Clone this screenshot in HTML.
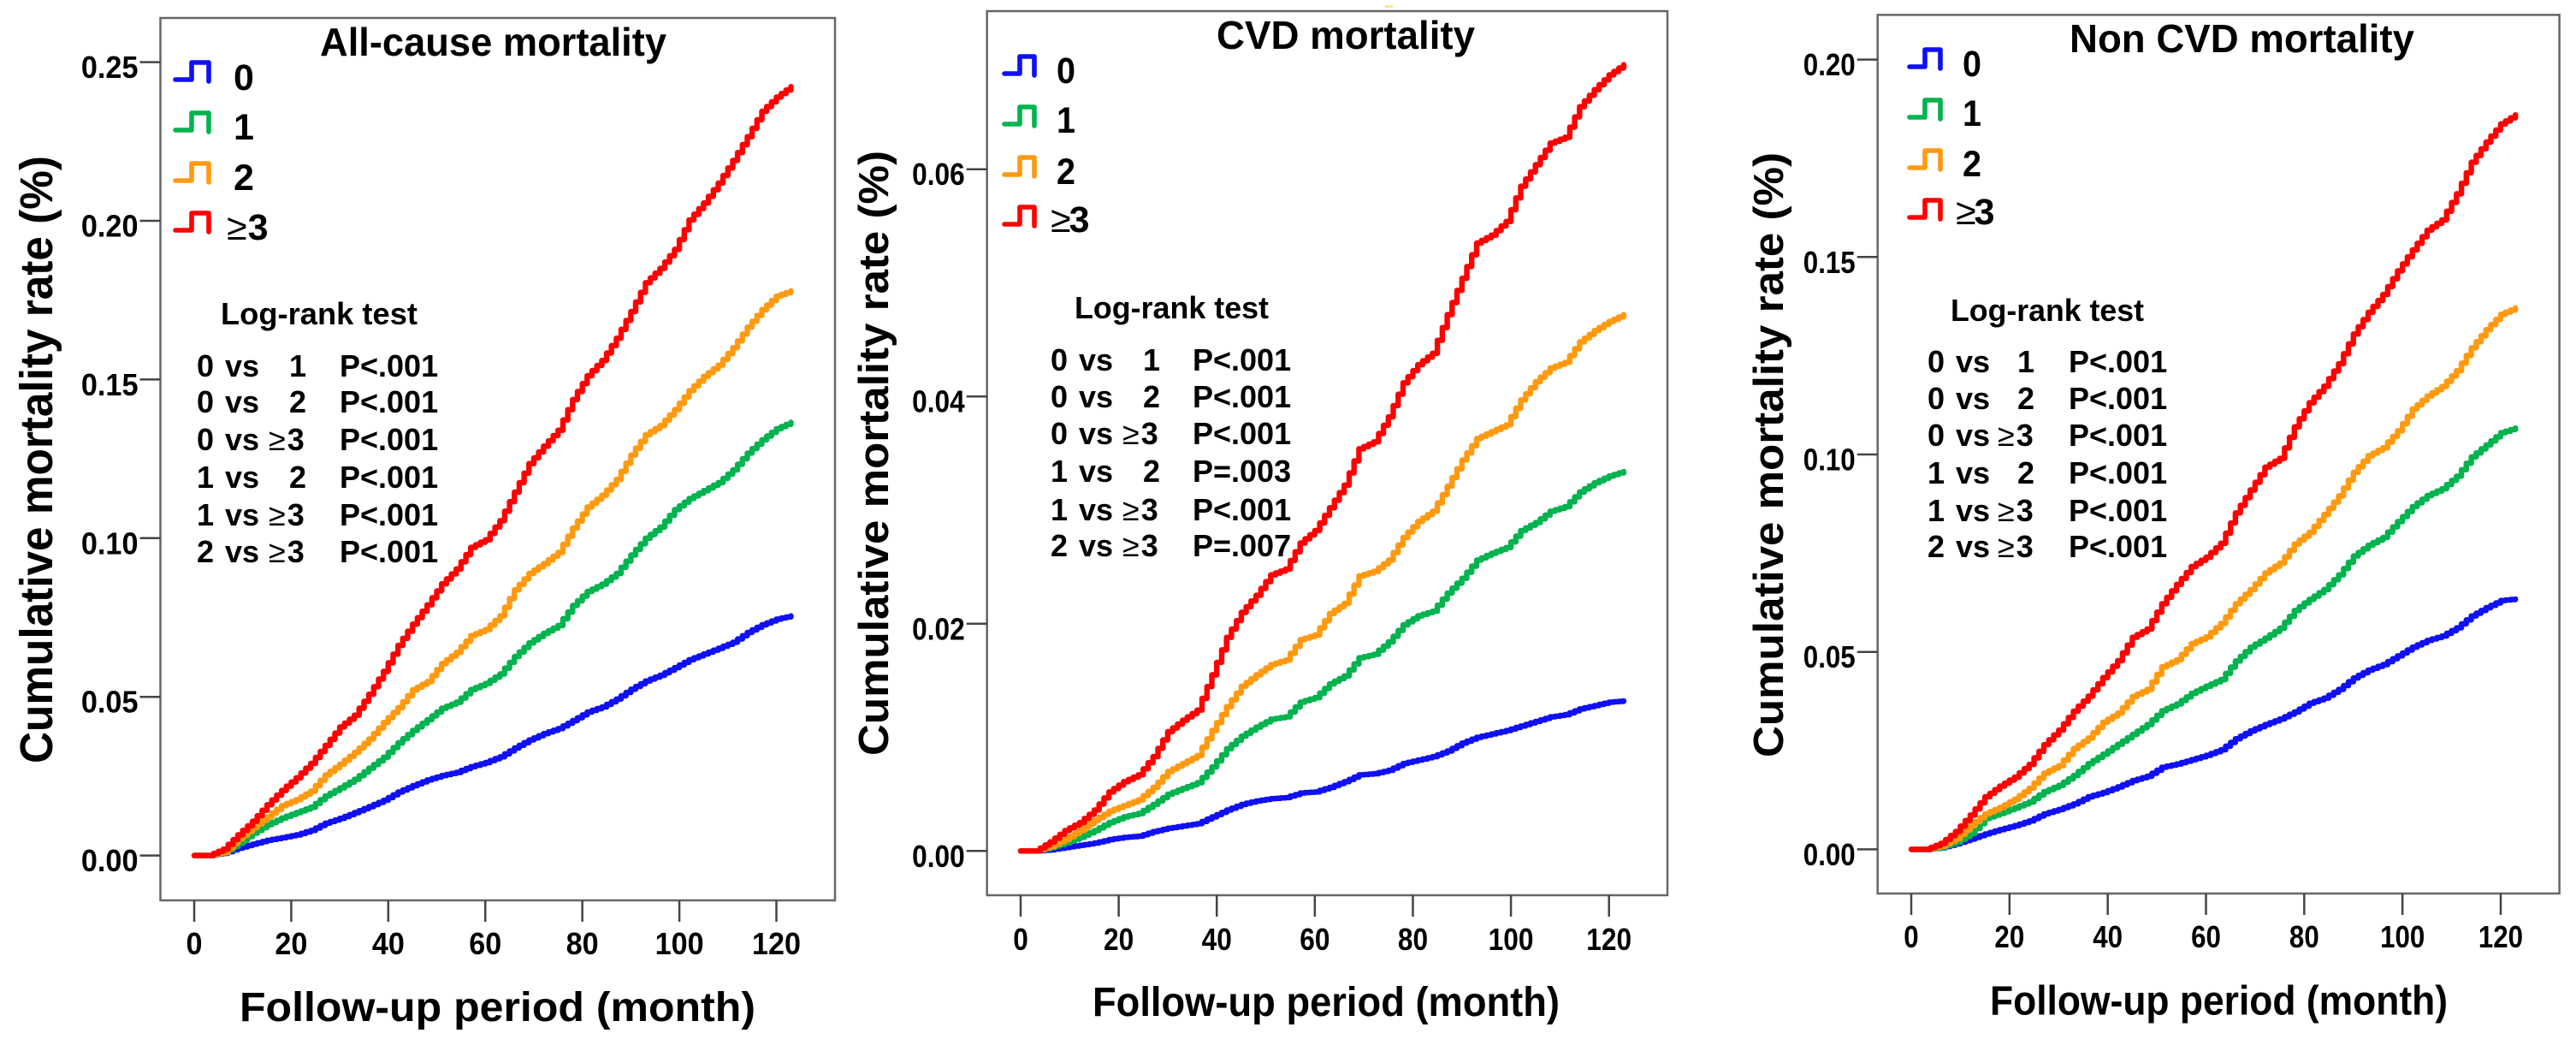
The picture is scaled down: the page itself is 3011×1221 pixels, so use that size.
<!DOCTYPE html>
<html lang="en">
<head>
<meta charset="utf-8">
<title>Cumulative mortality curves</title>
<style>
  html, body { margin: 0; padding: 0; background: #fff; }
  svg { display: block; }
  text { font-family: "Liberation Sans", "DejaVu Sans", sans-serif; font-weight: 700; fill: #000; }
  .row { font-size: 36px; }
  .leg { font-size: 43px; }
  .hdr { font-size: 36px; }
  .ttl { font-size: 46px; }
  .xt { font-size: 48px; }
  .yt1 { font-size: 54px; }
  .yt2 { font-size: 49px; }
  .thin { font-weight: 400; }
  .frame { fill: none; stroke: #666; stroke-width: 2.5; }
  .sym { fill: none; stroke-width: 5.6; stroke-linecap: round; stroke-linejoin: round; }
</style>
</head>
<body>
<svg id="chart" xmlns="http://www.w3.org/2000/svg" width="3011" height="1221" viewBox="0 0 3011 1221">
  <rect x="0" y="0" width="3011" height="1221" fill="#fff"/>
  <rect x="1619" y="6" width="9" height="3" fill="#ffe680"/>

  <!-- Panel 1 -->
  <g id="panel-all">
    <rect class="frame" x="187.5" y="21" width="788.5" height="1031"/>
    <text class="ttl" x="374" y="65" textLength="405" lengthAdjust="spacingAndGlyphs">All-cause mortality</text>
    <text class="yt1" transform="translate(61,892) rotate(-90)" x="0" y="0" textLength="710" lengthAdjust="spacingAndGlyphs">Cumulative mortality rate (%)</text>
    <text class="xt" x="280" y="1193" textLength="603" lengthAdjust="spacingAndGlyphs">Follow-up period (month)</text>
    <g>
      <path class="sym" stroke="#1010f5" d="M205 93H224V73H244V95"/>
      <path class="sym" stroke="#00b34f" d="M205 152H224V132H244V154"/>
      <path class="sym" stroke="#ff9a10" d="M205 211H224V191H244V213"/>
      <path class="sym" stroke="#ff0000" d="M205 269H224V249H244V271"/>
      <text class="leg" x="273" y="105">0</text>
      <text class="leg" x="273" y="163">1</text>
      <text class="leg" x="273" y="222">2</text>
      <text class="leg" x="265" y="280"><tspan class="thin">≥</tspan><tspan dx="1">3</tspan></text>
    </g>
    <g>
      <text class="hdr" x="258" y="379" textLength="230" lengthAdjust="spacingAndGlyphs">Log-rank test</text>
      <text class="row" y="440"><tspan x="230">0</tspan><tspan x="263">vs</tspan><tspan x="338">1</tspan><tspan x="397">P&lt;.001</tspan></text>
      <text class="row" y="482"><tspan x="230">0</tspan><tspan x="263">vs</tspan><tspan x="338">2</tspan><tspan x="397">P&lt;.001</tspan></text>
      <text class="row" y="526"><tspan x="230">0</tspan><tspan x="263">vs</tspan><tspan x="314" class="thin">≥</tspan><tspan dx="2">3</tspan><tspan x="397">P&lt;.001</tspan></text>
      <text class="row" y="570"><tspan x="230">1</tspan><tspan x="263">vs</tspan><tspan x="338">2</tspan><tspan x="397">P&lt;.001</tspan></text>
      <text class="row" y="614"><tspan x="230">1</tspan><tspan x="263">vs</tspan><tspan x="314" class="thin">≥</tspan><tspan dx="2">3</tspan><tspan x="397">P&lt;.001</tspan></text>
      <text class="row" y="657"><tspan x="230">2</tspan><tspan x="263">vs</tspan><tspan x="314" class="thin">≥</tspan><tspan dx="2">3</tspan><tspan x="397">P&lt;.001</tspan></text>
    </g>
  </g>

  <!-- Panel 2 -->
  <g id="panel-cvd">
    <rect class="frame" x="1153.7" y="13" width="795.3" height="1033"/>
    <text class="ttl" x="1422" y="57" textLength="302" lengthAdjust="spacingAndGlyphs">CVD mortality</text>
    <text class="yt2" transform="translate(1038,883) rotate(-90)" x="0" y="0" textLength="707" lengthAdjust="spacingAndGlyphs">Cumulative mortality rate (%)</text>
    <text class="xt" x="1277" y="1187" textLength="546" lengthAdjust="spacingAndGlyphs">Follow-up period (month)</text>
    <g>
      <path class="sym" stroke="#1010f5" d="M1174 86H1192V66H1209V88"/>
      <path class="sym" stroke="#00b34f" d="M1174 145H1192V125H1209V147"/>
      <path class="sym" stroke="#ff9a10" d="M1174 204H1192V184H1209V206"/>
      <path class="sym" stroke="#ff0000" d="M1174 262H1192V242H1209V264"/>
      <text class="leg" x="1235" y="97" textLength="22" lengthAdjust="spacingAndGlyphs">0</text>
      <text class="leg" x="1235" y="155" textLength="22" lengthAdjust="spacingAndGlyphs">1</text>
      <text class="leg" x="1235" y="215" textLength="22" lengthAdjust="spacingAndGlyphs">2</text>
      <text class="leg" x="1228" y="271"><tspan class="thin">≥</tspan><tspan dx="-2">3</tspan></text>
    </g>
    <g>
      <text class="hdr" x="1256" y="372" textLength="227" lengthAdjust="spacingAndGlyphs">Log-rank test</text>
      <text class="row" y="433"><tspan x="1228">0</tspan><tspan x="1261">vs</tspan><tspan x="1336">1</tspan><tspan x="1394">P&lt;.001</tspan></text>
      <text class="row" y="476"><tspan x="1228">0</tspan><tspan x="1261">vs</tspan><tspan x="1336">2</tspan><tspan x="1394">P&lt;.001</tspan></text>
      <text class="row" y="519"><tspan x="1228">0</tspan><tspan x="1261">vs</tspan><tspan x="1312" class="thin">≥</tspan><tspan dx="2">3</tspan><tspan x="1394">P&lt;.001</tspan></text>
      <text class="row" y="563"><tspan x="1228">1</tspan><tspan x="1261">vs</tspan><tspan x="1336">2</tspan><tspan x="1394">P=.003</tspan></text>
      <text class="row" y="608"><tspan x="1228">1</tspan><tspan x="1261">vs</tspan><tspan x="1312" class="thin">≥</tspan><tspan dx="2">3</tspan><tspan x="1394">P&lt;.001</tspan></text>
      <text class="row" y="650"><tspan x="1228">2</tspan><tspan x="1261">vs</tspan><tspan x="1312" class="thin">≥</tspan><tspan dx="2">3</tspan><tspan x="1394">P=.007</tspan></text>
    </g>
  </g>

  <!-- Panel 3 -->
  <g id="panel-non">
    <rect class="frame" x="2194.7" y="17.4" width="796.9" height="1026.6"/>
    <text class="ttl" x="2419" y="61" textLength="403" lengthAdjust="spacingAndGlyphs">Non CVD mortality</text>
    <text class="yt2" transform="translate(2084,885) rotate(-90)" x="0" y="0" textLength="707" lengthAdjust="spacingAndGlyphs">Cumulative mortality rate (%)</text>
    <text class="xt" x="2326" y="1185.6" textLength="535" lengthAdjust="spacingAndGlyphs">Follow-up period (month)</text>
    <g>
      <path class="sym" stroke="#1010f5" d="M2232 78H2250V58H2268V80"/>
      <path class="sym" stroke="#00b34f" d="M2232 137H2250V117H2268V139"/>
      <path class="sym" stroke="#ff9a10" d="M2232 196H2250V176H2268V198"/>
      <path class="sym" stroke="#ff0000" d="M2232 254H2250V234H2268V256"/>
      <text class="leg" x="2294" y="89" textLength="22" lengthAdjust="spacingAndGlyphs">0</text>
      <text class="leg" x="2294" y="147" textLength="22" lengthAdjust="spacingAndGlyphs">1</text>
      <text class="leg" x="2294" y="206" textLength="22" lengthAdjust="spacingAndGlyphs">2</text>
      <text class="leg" x="2286" y="262"><tspan class="thin">≥</tspan><tspan dx="-2">3</tspan></text>
    </g>
    <g>
      <text class="hdr" x="2280" y="375" textLength="226" lengthAdjust="spacingAndGlyphs">Log-rank test</text>
      <text class="row" y="435"><tspan x="2253">0</tspan><tspan x="2286">vs</tspan><tspan x="2358">1</tspan><tspan x="2418">P&lt;.001</tspan></text>
      <text class="row" y="478"><tspan x="2253">0</tspan><tspan x="2286">vs</tspan><tspan x="2358">2</tspan><tspan x="2418">P&lt;.001</tspan></text>
      <text class="row" y="521"><tspan x="2253">0</tspan><tspan x="2286">vs</tspan><tspan x="2335" class="thin">≥</tspan><tspan dx="2">3</tspan><tspan x="2418">P&lt;.001</tspan></text>
      <text class="row" y="565"><tspan x="2253">1</tspan><tspan x="2286">vs</tspan><tspan x="2358">2</tspan><tspan x="2418">P&lt;.001</tspan></text>
      <text class="row" y="609"><tspan x="2253">1</tspan><tspan x="2286">vs</tspan><tspan x="2335" class="thin">≥</tspan><tspan dx="2">3</tspan><tspan x="2418">P&lt;.001</tspan></text>
      <text class="row" y="651"><tspan x="2253">2</tspan><tspan x="2286">vs</tspan><tspan x="2335" class="thin">≥</tspan><tspan dx="2">3</tspan><tspan x="2418">P&lt;.001</tspan></text>
    </g>
  </g>
</svg>

<script>
// Shared x data: follow-up month for every reading below
const months = [0,3,6,9,12,15,18,21,24,27,30,33,36,39,42,45,48,51,54,57,60,63,66,69,72,75,78,81,84,87,90,93,96,99,102,105,108,111,114,117,120,123];
const xTickValues = [0,20,40,60,80,100,120];

// All-cause mortality
const allCauseYTicks = [0,0.05,0.10,0.15,0.20,0.25];
const allCause0 = [0,0,.0007,.0023,.0036,.0048,.0056,.0065,.0079,.0102,.0117,.0135,.0154,.0174,.02,.022,.0238,.0252,.0262,.028,.0293,.0311,.0339,.0364,.0384,.04,.0425,.0452,.0468,.0493,.0524,.055,.0568,.0592,.0617,.0635,.0653,.0672,.0703,.0727,.0745,.0755];
const allCause1 = [0,0,.0008,.0038,.007,.0097,.0118,.0135,.0152,.0188,.0213,.024,.0275,.031,.0355,.0394,.0428,.0464,.0483,.0523,.0542,.0572,.0627,.067,.07,.0725,.0788,.0832,.0855,.0889,.0947,.1,.1035,.109,.1125,.115,.1175,.1215,.1268,.131,.1345,.1365];
const allCause2 = [0,0,.001,.0052,.0088,.0122,.0157,.0176,.0203,.0254,.0288,.0325,.0367,.0419,.0466,.0522,.0548,.0605,.064,.0693,.0712,.0755,.0837,.0889,.092,.0955,.1032,.1098,.1135,.1185,.1262,.1326,.1355,.1405,.1465,.151,.1545,.16,.1665,.172,.1763,.1779];
const allCause3 = [0,0,.002,.0065,.0108,.016,.0205,.0245,.029,.0347,.0405,.0442,.0508,.058,.0662,.0729,.079,.0856,.0903,.0971,.0995,.1055,.1145,.1235,.129,.134,.1437,.1512,.156,.163,.1714,.1805,.185,.191,.2003,.2056,.2119,.219,.2265,.2345,.239,.2423];

// CVD mortality
const cvdYTicks = [0,0.02,0.04,0.06];
const cvd0 = [0,0,.0001,.0003,.0005,.0007,.001,.0012,.0013,.0017,.002,.0022,.0024,.003,.0036,.0041,.0044,.0046,.0047,.0051,.0052,.0056,.0061,.0067,.0068,.0071,.0077,.008,.0083,.0088,.0095,.01,.0103,.0106,.011,.0114,.0118,.012,.0125,.0128,.0131,.0132];
const cvd1 = [0,0,.0003,.0007,.0012,.0018,.0025,.003,.0033,.0041,.005,.0055,.006,.0074,.009,.0101,.0109,.0116,.0118,.0131,.0135,.0147,.0154,.017,.0173,.0184,.0199,.0207,.0211,.0227,.024,.0256,.0262,.0267,.0282,.0289,.0299,.0303,.0316,.0324,.033,.0334];
const cvd2 = [0,0,.0004,.001,.0018,.0027,.0035,.004,.0045,.0056,.007,.0077,.0084,.0106,.0127,.0145,.0155,.0164,.0168,.0186,.019,.0209,.0218,.0242,.0246,.0256,.0276,.029,.0299,.0321,.0344,.0363,.0369,.0375,.0397,.0413,.0425,.043,.0448,.0458,.0466,.0472];
const cvd3 = [0,0,.0008,.0018,.0025,.0036,.0052,.0061,.0067,.0083,.0105,.0115,.0124,.0155,.0188,.021,.0225,.0243,.0248,.0271,.0282,.0302,.0322,.0354,.036,.0382,.0412,.0428,.0438,.0472,.0504,.0535,.0542,.0554,.0585,.0604,.0623,.0628,.0655,.067,.0683,.0692];

// Non-CVD mortality
const nonCvdYTicks = [0,0.05,0.10,0.15,0.20];
const nonCvd0 = [0,0,.0004,.0014,.0026,.0039,.005,.006,.0072,.009,.0101,.0115,.0133,.0144,.0158,.0174,.0185,.0208,.0216,.0227,.0238,.0252,.028,.03,.0316,.033,.0348,.037,.0383,.0405,.0434,.0454,.0468,.049,.0512,.0529,.054,.0561,.0591,.0612,.063,.0634];
const nonCvd1 = [0,0,.0005,.0018,.004,.0078,.0091,.0105,.012,.0146,.0162,.0187,.0217,.0241,.0266,.0291,.0316,.0351,.0368,.0395,.0413,.043,.0477,.0512,.0535,.056,.0605,.0633,.0658,.0695,.0743,.077,.079,.083,.0868,.0896,.0913,.0945,.0994,.1024,.1055,.1067];
const nonCvd2 = [0,0,.0008,.0027,.006,.009,.0106,.0127,.0155,.0193,.0212,.0255,.0282,.0322,.0345,.0387,.0405,.0462,.048,.0521,.0538,.0572,.0622,.0658,.07,.0725,.0773,.0803,.0848,.0895,.0955,.0997,.1017,.106,.1115,.1148,.1172,.1212,.127,.1316,.1355,.1371];
const nonCvd3 = [0,0,.0015,.0045,.0087,.0133,.016,.0183,.0215,.0265,.0302,.035,.0388,.0435,.0478,.0537,.0558,.0622,.0671,.0716,.074,.0775,.0852,.091,.0968,.099,.107,.1131,.1173,.123,.1305,.136,.1405,.1465,.1518,.1568,.1594,.166,.174,.1791,.1837,.186];

const SVGNS = "http://www.w3.org/2000/svg";
const seriesColors = ["#1010f5", "#00b34f", "#ff9a10", "#ff0000"];
const seriesGroups = ["0", "1", "2", "3-plus"];
const SUB_STEPS = 3;

function linear(d0, d1, r0, r1) {
  return function (v) { return r0 + (v - d0) * (r1 - r0) / (d1 - d0); };
}

function stairPath(xs, ys, sx, sy) {
  let d = "M" + sx(xs[0]).toFixed(1) + " " + sy(ys[0]).toFixed(1);
  for (let i = 1; i < xs.length; i++) {
    for (let k = 1; k <= SUB_STEPS; k++) {
      const f = k / SUB_STEPS;
      const xm = xs[i - 1] + (xs[i] - xs[i - 1]) * f;
      const ym = ys[i - 1] + (ys[i] - ys[i - 1]) * f;
      d += "H" + sx(xm).toFixed(1) + "V" + sy(ym).toFixed(1);
    }
  }
  return d;
}

function labelWidth(s, size, squeeze) {
  let em = 0;
  for (const c of s) { em += (c === ".") ? 0.278 : 0.556; }
  return em * size * squeeze;
}

function drawPanel(p) {
  const g = document.getElementById(p.id);
  const sx = linear(0, 120, p.x0, p.x120);
  const sy = linear(0, p.yRefValue, p.y0, p.yRef);

  xTickValues.forEach(function (t) {
    const line = document.createElementNS(SVGNS, "line");
    line.setAttribute("x1", sx(t));
    line.setAttribute("x2", sx(t));
    line.setAttribute("y1", p.bottom);
    line.setAttribute("y2", p.bottom + 25);
    line.setAttribute("stroke", "#444");
    line.setAttribute("stroke-width", "2.5");
    
    
    g.appendChild(line);

    const s = String(t);
    const txt = document.createElementNS(SVGNS, "text");
    txt.setAttribute("x", sx(t));
    txt.setAttribute("y", p.xLabelY);
    txt.setAttribute("text-anchor", "middle");
    txt.setAttribute("font-size", "36");
    txt.setAttribute("textLength", labelWidth(s, 36, p.squeeze).toFixed(1));
    txt.setAttribute("lengthAdjust", "spacingAndGlyphs");
    
    
    txt.textContent = s;
    g.appendChild(txt);
  });

  p.yTicks.forEach(function (t) {
    const line = document.createElementNS(SVGNS, "line");
    line.setAttribute("x1", p.left - 24);
    line.setAttribute("x2", p.left);
    line.setAttribute("y1", sy(t));
    line.setAttribute("y2", sy(t));
    line.setAttribute("stroke", "#444");
    line.setAttribute("stroke-width", "2.5");
    
    
    g.appendChild(line);

    const s = t.toFixed(2);
    const txt = document.createElementNS(SVGNS, "text");
    txt.setAttribute("x", p.left - 26);
    txt.setAttribute("y", sy(t) + 18.5);
    txt.setAttribute("text-anchor", "end");
    txt.setAttribute("font-size", "36");
    txt.setAttribute("textLength", labelWidth(s, 36, p.squeeze).toFixed(1));
    txt.setAttribute("lengthAdjust", "spacingAndGlyphs");
    
    
    txt.textContent = s;
    g.appendChild(txt);
  });

  p.series.forEach(function (vals, i) {
    const path = document.createElementNS(SVGNS, "path");
    path.setAttribute("d", stairPath(months, vals, sx, sy));
    path.setAttribute("fill", "none");
    path.setAttribute("stroke", seriesColors[i]);
    path.setAttribute("stroke-width", "6.4");
    path.setAttribute("stroke-linejoin", "round");
    path.setAttribute("stroke-linecap", "round");
    
    
    g.appendChild(path);
  });
}

drawPanel({ id: "panel-all", left: 187.5, bottom: 1052, x0: 227, x120: 907.5, y0: 999.6, yRef: 72.6, yRefValue: 0.25, xLabelY: 1115, squeeze: 0.95, yTicks: allCauseYTicks, series: [allCause0, allCause1, allCause2, allCause3] });
drawPanel({ id: "panel-cvd", left: 1153.7, bottom: 1046, x0: 1193, x120: 1880.7, y0: 994.3, yRef: 197.7, yRefValue: 0.06, xLabelY: 1110, squeeze: 0.88, yTicks: cvdYTicks, series: [cvd0, cvd1, cvd2, cvd3] });
drawPanel({ id: "panel-non", left: 2194.7, bottom: 1044, x0: 2234, x120: 2923, y0: 992.4, yRef: 69.6, yRefValue: 0.20, xLabelY: 1107, squeeze: 0.87, yTicks: nonCvdYTicks, series: [nonCvd0, nonCvd1, nonCvd2, nonCvd3] });
</script>
</body>
</html>
